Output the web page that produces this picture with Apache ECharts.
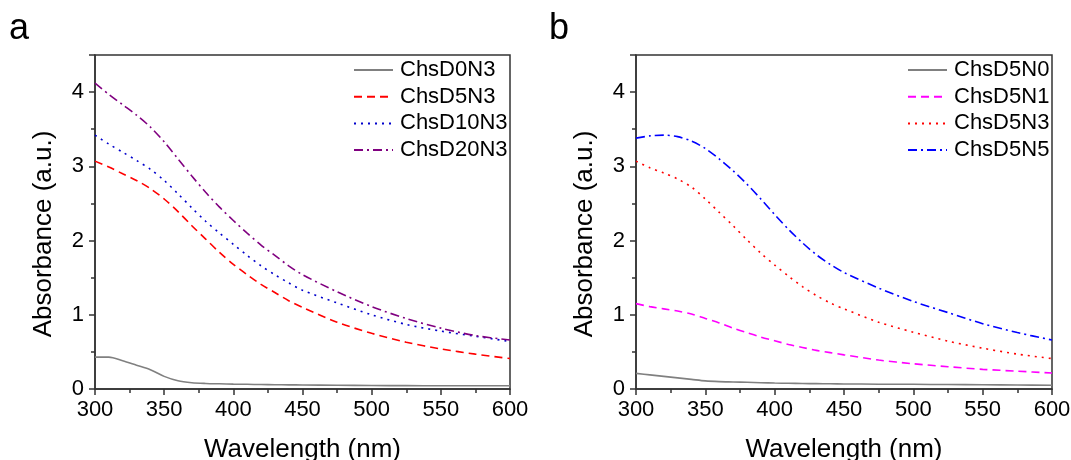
<!doctype html>
<html>
    <head>
        <meta charset="utf-8">
        <title>Absorbance spectra</title>
        <style>
            html, body { margin: 0; padding: 0; background: #fff; }
            #main { width: 1071px; height: 460px; }
        </style>
    </head>
    <body>
        <div id="main"></div>
        <script src="https://cdn.jsdelivr.net/npm/echarts@6/dist/echarts.min.js"></script>
        <script>
            // wavelength grid shared by both panels (nm)
            var wavelength = [300, 310, 320, 330, 340, 350, 360, 370, 380, 390, 400, 410, 420, 430, 440, 450, 475, 500, 525, 550, 575, 600];

            // panel a
            var chsD0N3 = [0.43, 0.43, 0.38, 0.32, 0.26, 0.17, 0.11, 0.085, 0.075, 0.07, 0.066, 0.063, 0.06, 0.058, 0.056, 0.054, 0.05, 0.047, 0.045, 0.044, 0.043, 0.043];
            var chsD5N3a = [3.07, 2.99, 2.90, 2.81, 2.70, 2.56, 2.39, 2.20, 2.02, 1.84, 1.68, 1.54, 1.41, 1.30, 1.19, 1.10, 0.90, 0.75, 0.63, 0.54, 0.47, 0.41];
            var chsD10N3 = [3.42, 3.30, 3.19, 3.08, 2.96, 2.81, 2.63, 2.44, 2.26, 2.10, 1.95, 1.80, 1.66, 1.54, 1.43, 1.33, 1.16, 1.0, 0.87, 0.78, 0.71, 0.64];
            var chsD20N3 = [4.12, 3.97, 3.83, 3.69, 3.53, 3.33, 3.10, 2.87, 2.65, 2.45, 2.27, 2.10, 1.94, 1.80, 1.66, 1.54, 1.31, 1.11, 0.95, 0.82, 0.72, 0.66];

            // panel b
            var chsD5N0 = [0.21, 0.19, 0.17, 0.15, 0.13, 0.11, 0.10, 0.095, 0.09, 0.085, 0.08, 0.077, 0.074, 0.072, 0.07, 0.068, 0.065, 0.063, 0.06, 0.057, 0.053, 0.05];
            var chsD5N1 = [1.15, 1.11, 1.08, 1.05, 1.01, 0.95, 0.89, 0.82, 0.76, 0.70, 0.65, 0.60, 0.56, 0.52, 0.49, 0.46, 0.39, 0.34, 0.30, 0.265, 0.24, 0.215];
            var chsD5N3b = [3.07, 2.98, 2.91, 2.83, 2.72, 2.56, 2.38, 2.20, 2.01, 1.83, 1.67, 1.52, 1.38, 1.26, 1.16, 1.08, 0.90, 0.765, 0.645, 0.55, 0.47, 0.41];
            var chsD5N5 = [3.38, 3.41, 3.42, 3.40, 3.34, 3.24, 3.10, 2.94, 2.76, 2.56, 2.35, 2.15, 1.97, 1.81, 1.68, 1.57, 1.36, 1.18, 1.03, 0.88, 0.76, 0.66];

            var namesA = ['ChsD0N3', 'ChsD5N3', 'ChsD10N3', 'ChsD20N3'];
            var namesB = ['ChsD5N0', 'ChsD5N1', 'ChsD5N3', 'ChsD5N5'];

            var font = 'Liberation Sans, Arial, sans-serif';
            var axisColor = '#333';

            function pairs(xs, ys) {
                return xs.map(function (x, i) { return [x, ys[i]]; });
            }

            function xAxis(idx) {
                return {
                    type: 'value', gridIndex: idx, min: 300, max: 600, interval: 50,
                    name: 'Wavelength (nm)', nameLocation: 'middle', nameGap: 48,
                    nameTextStyle: { fontFamily: font, fontSize: 26, color: '#000' },
                    axisLine: { lineStyle: { color: axisColor, width: 1.5 } },
                    axisTick: { inside: false, length: 6, lineStyle: { color: axisColor, width: 1.5 } },
                    minorTick: { show: true, splitNumber: 2, length: 4, lineStyle: { color: axisColor, width: 1.5 } },
                    axisLabel: { fontFamily: font, fontSize: 22, color: '#000', margin: 10 },
                    splitLine: { show: false }
                };
            }

            function yAxis(idx) {
                return {
                    type: 'value', gridIndex: idx, min: 0, max: 4.5, interval: 1,
                    name: 'Absorbance (a.u.)', nameLocation: 'middle', nameGap: 38,
                    nameTextStyle: { fontFamily: font, fontSize: 26, color: '#000', padding: [0, 24, 0, 0] },
                    axisLine: { lineStyle: { color: axisColor, width: 1.5 } },
                    axisTick: { inside: false, length: 6, lineStyle: { color: axisColor, width: 1.5 } },
                    minorTick: { show: true, splitNumber: 2, length: 4, lineStyle: { color: axisColor, width: 1.5 } },
                    axisLabel: { fontFamily: font, fontSize: 22, color: '#000', margin: 11, showMaxLabel: false },
                    splitLine: { show: false }
                };
            }

            // series names carry a panel prefix so both panels can list ChsD5N3
            function legend(left, panel, names) {
                return {
                    left: left, top: 59, orient: 'vertical', padding: 0,
                    data: names.map(function (n) { return panel + ':' + n; }),
                    formatter: function (name) { return name.slice(2); },
                    itemWidth: 39, itemHeight: 14, itemGap: 4.7,
                    itemStyle: { opacity: 0 },
                    textStyle: { fontFamily: font, fontSize: 22, color: '#000', lineHeight: 22, padding: [0, 0, 0, 2] }
                };
            }

            function line(panel, name, idx, ys, color, type) {
                return {
                    name: panel + ':' + name, type: 'line', xAxisIndex: idx, yAxisIndex: idx,
                    data: pairs(wavelength, ys), smooth: 0.3, symbol: 'none', silent: true,
                    lineStyle: { color: color, width: 1.6, type: type },
                    itemStyle: { color: color }
                };
            }

            var dash = [8, 5];
            var dot = [2, 5];
            var dashDot = [9, 4, 2, 4];

            var chart = echarts.init(document.getElementById('main'));

            chart.setOption({
                animation: false,
                title: [
                    { text: 'a', left: 9, top: 11, padding: 0, textStyle: { fontFamily: font, fontSize: 36, fontWeight: 'normal', color: '#000' } },
                    { text: 'b', left: 549, top: 11, padding: 0, textStyle: { fontFamily: font, fontSize: 36, fontWeight: 'normal', color: '#000' } }
                ],
                grid: [
                    { left: 95, top: 55, width: 415, height: 334, outerBoundsMode: 'none', show: true, borderColor: axisColor, borderWidth: 1.5 },
                    { left: 636, top: 55, width: 416, height: 334, outerBoundsMode: 'none', show: true, borderColor: axisColor, borderWidth: 1.5 }
                ],
                legend: [legend(353, 'a', namesA), legend(907, 'b', namesB)],
                xAxis: [xAxis(0), xAxis(1)],
                yAxis: [yAxis(0), yAxis(1)],
                series: [
                    line('a', namesA[0], 0, chsD0N3, '#808080', 'solid'),
                    line('a', namesA[1], 0, chsD5N3a, '#ff0000', dash),
                    line('a', namesA[2], 0, chsD10N3, '#0000cc', dot),
                    line('a', namesA[3], 0, chsD20N3, '#800080', dashDot),
                    line('b', namesB[0], 1, chsD5N0, '#808080', 'solid'),
                    line('b', namesB[1], 1, chsD5N1, '#ff00ff', dash),
                    line('b', namesB[2], 1, chsD5N3b, '#ff0000', dot),
                    line('b', namesB[3], 1, chsD5N5, '#0000ff', dashDot)
                ]
            });

            window.addEventListener('resize', chart.resize);
        </script>
    </body>
</html>
